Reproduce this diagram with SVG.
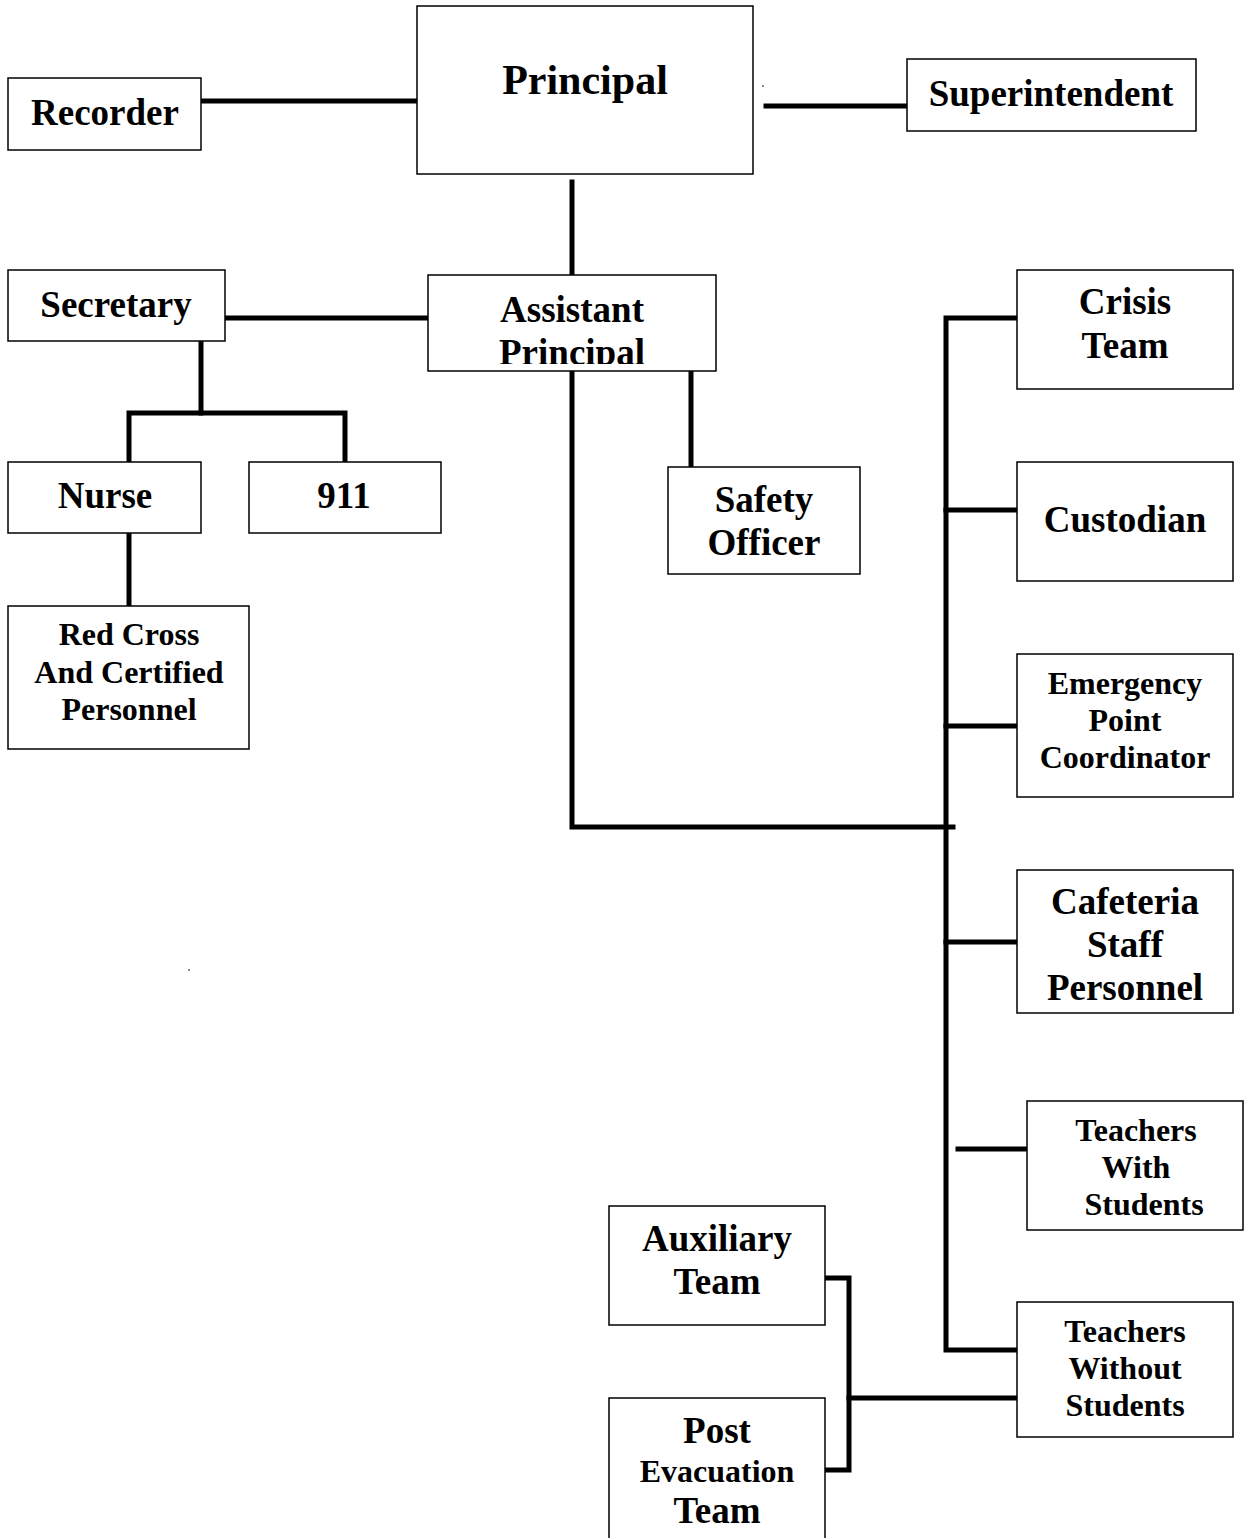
<svg xmlns="http://www.w3.org/2000/svg" width="1244" height="1538" viewBox="0 0 1244 1538">
<style>
.box{fill:#fff;stroke:#000;stroke-width:1.5}
.t{font-family:'Liberation Serif','Times New Roman',Times,serif;font-weight:700;fill:#000;text-anchor:middle}
.b{font-size:37px}
.s{font-size:32px}
.l{stroke:#000;stroke-width:5;fill:none;stroke-linecap:square}
</style>
<defs>
<clipPath id="apclip"><rect x="428" y="275" width="288" height="89"/></clipPath>
</defs>
<rect width="1244" height="1538" fill="#fff"/>
<g id="connectors">
<line class="l" x1="201" y1="101" x2="417" y2="101"/>
<line class="l" x1="766" y1="106" x2="907" y2="106"/>
<line class="l" x1="572" y1="182" x2="572" y2="275"/>
<line class="l" x1="225" y1="318" x2="439" y2="318"/>
<line class="l" x1="201" y1="341" x2="201" y2="413"/>
<polyline class="l" points="129,462 129,413 345,413 345,462"/>
<line class="l" x1="129" y1="533" x2="129" y2="606"/>
<polyline class="l" points="572,371 572,827 953,827"/>
<line class="l" x1="691" y1="371" x2="691" y2="467"/>
<polyline class="l" points="1017,318 946,318 946,1350 1017,1350"/>
<line class="l" x1="946" y1="510" x2="1017" y2="510"/>
<line class="l" x1="946" y1="726" x2="1017" y2="726"/>
<line class="l" x1="946" y1="942" x2="1017" y2="942"/>
<line class="l" x1="958" y1="1149" x2="1027" y2="1149"/>
<polyline class="l" points="825,1278 849,1278 849,1470 825,1470"/>
<line class="l" x1="849" y1="1398" x2="1017" y2="1398"/>
</g>
<circle cx="763" cy="86" r="0.8" fill="#000"/>
<circle cx="189" cy="970" r="0.8" fill="#000"/>
<g id="principal"><rect class="box" x="417" y="6" width="336" height="168"/><text class="t" x="585" y="94" font-size="42">Principal</text></g>
<g id="recorder"><rect class="box" x="8" y="78" width="193" height="72"/><text class="t b" x="105" y="125">Recorder</text></g>
<g id="superintendent"><rect class="box" x="907" y="59" width="289" height="72"/><text class="t b" x="1051" y="106">Superintendent</text></g>
<g id="assistant-principal"><rect class="box" x="428" y="275" width="288" height="96"/><g clip-path="url(#apclip)"><text class="t b" x="572" y="322">Assistant</text><text class="t b" x="572" y="365">Principal</text></g></g>
<g id="secretary"><rect class="box" x="8" y="270" width="217" height="71"/><text class="t b" x="116" y="317">Secretary</text></g>
<g id="nurse"><rect class="box" x="8" y="462" width="193" height="71"/><text class="t b" x="105" y="508">Nurse</text></g>
<g id="n911"><rect class="box" x="249" y="462" width="192" height="71"/><text class="t b" x="344" y="508">911</text></g>
<g id="red-cross"><rect class="box" x="8" y="606" width="241" height="143"/><text class="t s" x="129" y="645">Red Cross</text><text class="t s" x="129" y="683">And Certified</text><text class="t s" x="129" y="720">Personnel</text></g>
<g id="safety-officer"><rect class="box" x="668" y="467" width="192" height="107"/><text class="t b" x="764" y="512">Safety</text><text class="t b" x="764" y="555">Officer</text></g>
<g id="crisis-team"><rect class="box" x="1017" y="270" width="216" height="119"/><text class="t b" x="1125" y="314">Crisis</text><text class="t b" x="1125" y="358">Team</text></g>
<g id="custodian"><rect class="box" x="1017" y="462" width="216" height="119"/><text class="t b" x="1125" y="532">Custodian</text></g>
<g id="emergency"><rect class="box" x="1017" y="654" width="216" height="143"/><text class="t s" x="1125" y="694">Emergency</text><text class="t s" x="1125" y="731">Point</text><text class="t s" x="1125" y="768">Coordinator</text></g>
<g id="cafeteria"><rect class="box" x="1017" y="870" width="216" height="143"/><text class="t b" x="1125" y="914">Cafeteria</text><text class="t b" x="1125" y="957">Staff</text><text class="t b" x="1125" y="1000">Personnel</text></g>
<g id="teachers-with"><rect class="box" x="1027" y="1101" width="216" height="129"/><text class="t s" x="1136" y="1141">Teachers</text><text class="t s" x="1136" y="1178">With</text><text class="t s" x="1144" y="1215">Students</text></g>
<g id="teachers-without"><rect class="box" x="1017" y="1302" width="216" height="135"/><text class="t s" x="1125" y="1342">Teachers</text><text class="t s" x="1125" y="1379">Without</text><text class="t s" x="1125" y="1416">Students</text></g>
<g id="auxiliary"><rect class="box" x="609" y="1206" width="216" height="119"/><text class="t b" x="717" y="1251">Auxiliary</text><text class="t b" x="717" y="1294">Team</text></g>
<g id="post-evacuation"><rect class="box" x="609" y="1398" width="216" height="145"/><text class="t b" x="717" y="1443">Post</text><text class="t s" x="717" y="1482">Evacuation</text><text class="t b" x="717" y="1523">Team</text></g>
</svg>
